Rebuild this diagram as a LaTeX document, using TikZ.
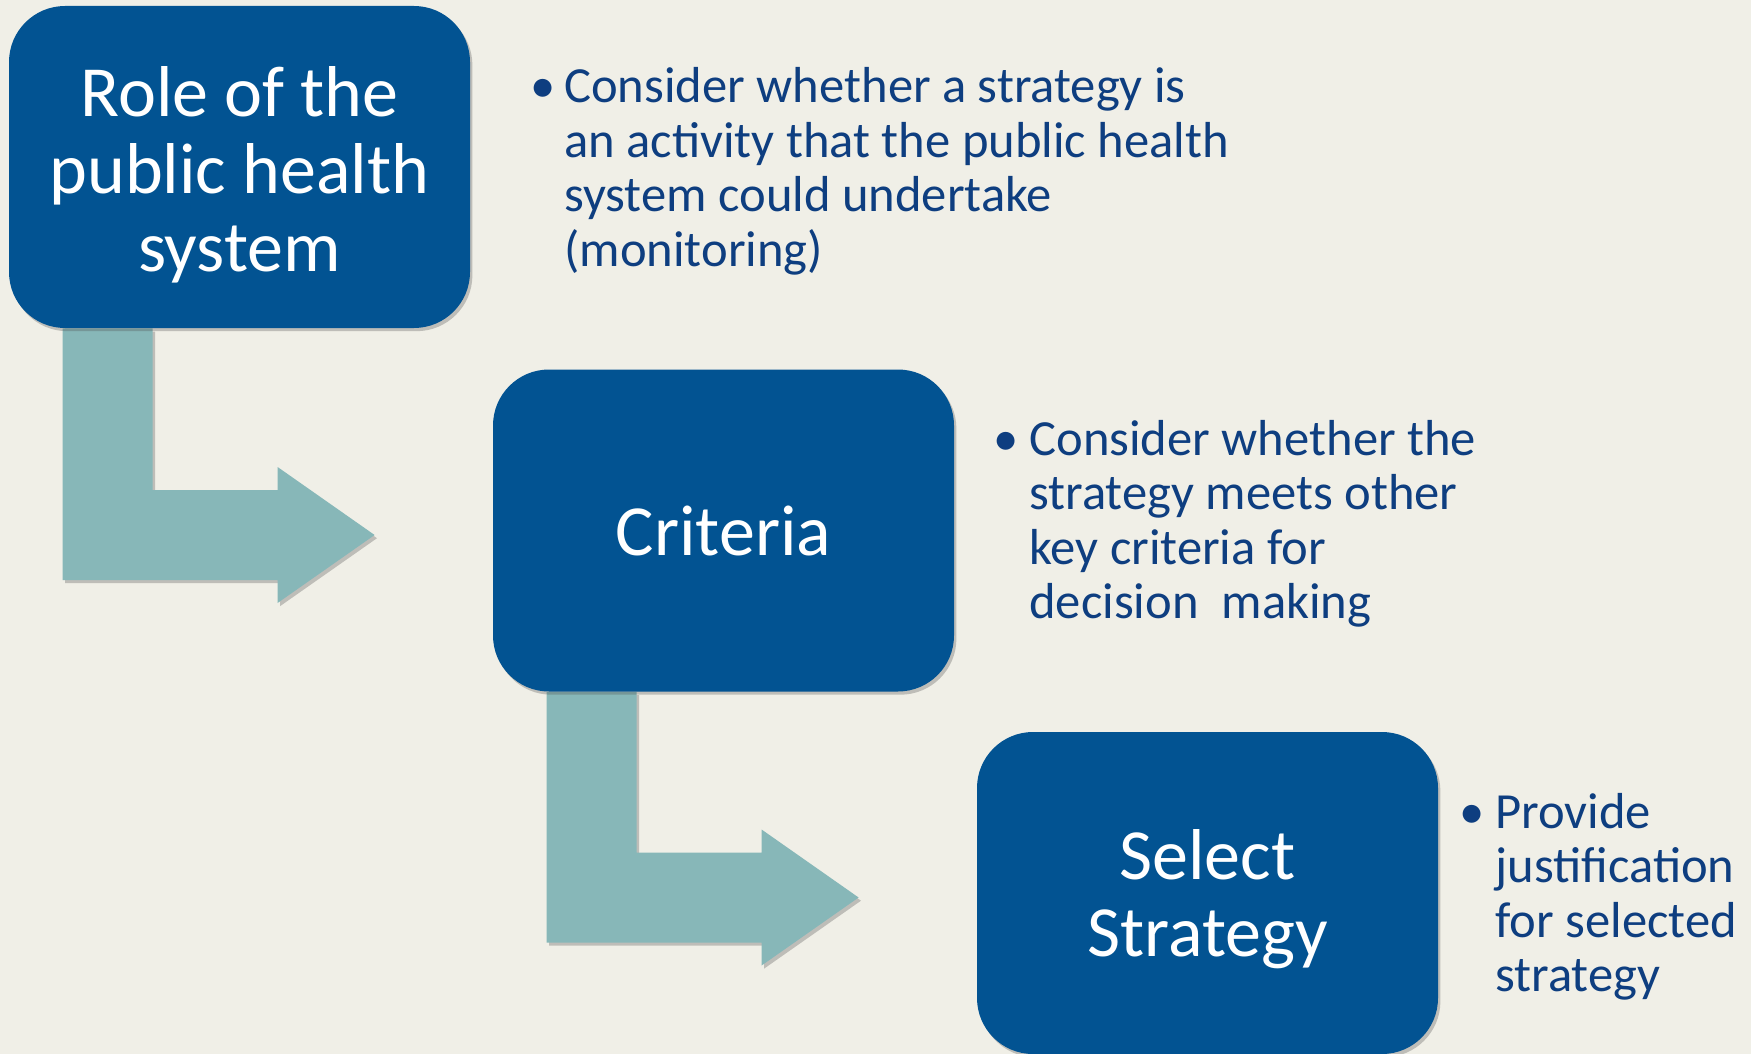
\documentclass[tikz,border=0pt]{standalone}
\usepackage{fontspec}
\setmainfont{Carlito}
\usepackage{tikz}
\usetikzlibrary{calc, positioning, shadows}
\definecolor{boxblue}{RGB}{2, 83, 146}
\definecolor{arrowteal}{RGB}{135, 183, 184}
\definecolor{paper}{RGB}{240, 239, 231}
\definecolor{textblue}{RGB}{14, 62, 128}
\pgfdeclarelayer{paperlayer}
\pgfdeclarelayer{arrowlayer}
\pgfsetlayers{paperlayer,arrowlayer,main}

% bullet paragraph with hanging indent
\newcommand{\bulletpar}[2]{\parbox[t]{400pt}{\hangindent=#1\hangafter=1\noindent\makebox[#1][l]{\textbullet}#2}}

% elbow arrow from the bottom of one box to the left of the next
\newcommand{\elbowarrow}[2]{%
	\fill[elbow] ($(#1.south west)+(54,0)$) -- ($(#1.south west)+(144,0)$)
		|- ($(#2.west)+(-215,-40.5)$) -- ($(#2.west)+(-215,-63.5)$)
		-- ($(#2.west)+(-118,4.5)$) -- ($(#2.west)+(-215,72.5)$)
		-- ($(#2.west)+(-215,49.5)$) -| ($(#1.south west)+(54,0)$) -- cycle;}

\begin{document}
\begin{tikzpicture}[x=0.5pt, y=-0.5pt,
		stepbox/.style={fill=boxblue, rounded corners=28pt, minimum width=230.5pt, minimum height=161pt,
			text=white, align=center, font=\fontsize{36pt}{38.75pt}\selectfont,
			drop shadow={shadow xshift=1.2pt, shadow yshift=-1.6pt, opacity=0.3, fill=black!70}},
		elbow/.style={fill=arrowteal, drop shadow={shadow xshift=1.2pt, shadow yshift=-1.6pt, opacity=0.3, fill=black!70}},
		notes/.style={anchor=base west, inner sep=0pt, text=textblue, font=\fontsize{25.3pt}{27.25pt}\selectfont}]
	% page
	\begin{pgfonlayer}{paperlayer}
		\fill[paper] (0,0) rectangle (1751,1054);
	\end{pgfonlayer}
	\useasboundingbox (0,0) rectangle (1751,1054);

	% boxes
	\node[stepbox] (role) at (239.5,167) {\rule{0pt}{0.9em}Role of the\\public health\\system};
	\node[stepbox] (criteria) at (723.5,530.5) {Criteria};
	\node[stepbox] (select) at (1207.5,893) {\rule{0pt}{0.86em}Select\\Strategy};

	% arrows
	\begin{pgfonlayer}{arrowlayer}
		\elbowarrow{role}{criteria}
		\elbowarrow{criteria}{select}
	\end{pgfonlayer}

	% notes
	\node[notes] (rolenote) at (530,103) {\bulletpar{17pt}{Consider whether a strategy is\\an activity that the public health\\system could undertake\\(monitoring)}};
	\node[notes] (criterianote) at (993,455) {\bulletpar{18pt}{Consider whether the\\strategy meets other\\key criteria for\\decision\ \ making}};
	\node[notes] (selectnote) at (1459,828) {\bulletpar{18pt}{Provide\\justification\\for selected\\strategy}};
\end{tikzpicture}
\end{document}
